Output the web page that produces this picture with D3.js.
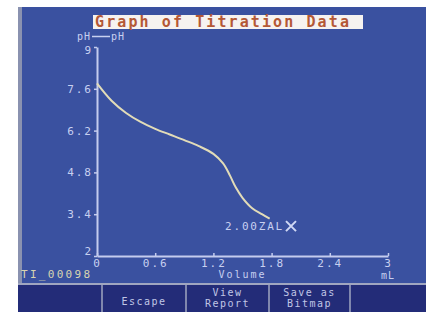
<!DOCTYPE html>
<html>
<head>
<meta charset="utf-8">
<script src="https://cdn.jsdelivr.net/npm/d3@7"></script>
<style>
  body { margin: 0; background: #ffffff; }
  text { font-family: "DejaVu Sans Mono", monospace; }
</style>
</head>
<body>
<div id="chart"></div>
<script>
// titration readings (mL, pH)
const volume = [0, 0.15, 0.3, 0.45, 0.6, 0.75, 0.9, 1.05, 1.2, 1.3, 1.37, 1.43, 1.5, 1.6, 1.7, 1.78];
const ph = [7.78, 7.2, 6.79, 6.49, 6.26, 6.07, 5.88, 5.68, 5.42, 5.1, 4.7, 4.3, 3.95, 3.6, 3.4, 3.25];
const xTicks = [0, 0.6, 1.2, 1.8, 2.4, 3];
const yTicks = [2, 3.4, 4.8, 6.2, 7.6, 9];
const marker = { volume: 2.0, ph: 3.0, label: "2.00ZAL" };
const buttons = [["Escape"], ["View", "Report"], ["Save as", "Bitmap"]];

const width = 426, height = 312;
const blue = "#3a51a0", navy = "#232c78", pale = "#c8d0f0";

const svg = d3.select("#chart")
  .append("svg")
    .attr("width", width)
    .attr("height", height);

// screen background
svg.append("rect")
  .attr("x", 18).attr("y", 7)
  .attr("width", width - 18).attr("height", height - 7)
  .attr("fill", blue);
svg.append("rect")
  .attr("x", 18).attr("y", 7)
  .attr("width", 4).attr("height", height - 7)
  .attr("fill", "#8a92b0");

const xScale = d3.scaleLinear().domain([0, 3]).range([97, 388]);
const yScale = d3.scaleLinear().domain([2, 9]).range([256, 47]);

// title box
svg.append("rect")
  .attr("x", 93).attr("y", 15)
  .attr("width", 270).attr("height", 14)
  .attr("fill", "#f6f2f0");
svg.append("text")
  .attr("x", 95).attr("y", 27)
  .attr("font-size", 15)
  .attr("font-weight", "bold")
  .attr("letter-spacing", 2.1)
  .attr("fill", "#b45836")
  .text("Graph of Titration Data");

// legend
const legend = svg.append("g").attr("fill", pale).attr("font-size", 10);
legend.append("text").attr("x", 77).attr("y", 40).attr("letter-spacing", 1).text("pH");
legend.append("line")
  .attr("x1", 92).attr("x2", 110).attr("y1", 36.5).attr("y2", 36.5)
  .attr("stroke", pale).attr("stroke-width", 1.5);
legend.append("text").attr("x", 111).attr("y", 40).attr("letter-spacing", 1).text("pH");

// axes
const yAxis = svg.append("g")
  .attr("transform", `translate(${xScale(0)},0)`)
  .call(d3.axisLeft(yScale).tickValues(yTicks).tickSize(3).tickSizeOuter(0)
    .tickFormat(d => d));
const xAxis = svg.append("g")
  .attr("transform", `translate(0,${yScale(2)})`)
  .call(d3.axisBottom(xScale).tickValues(xTicks).tickSize(-3).tickSizeOuter(0)
    .tickFormat(d => d));

[yAxis, xAxis].forEach(ax => {
  ax.select(".domain").attr("stroke", "#c4ccee").attr("stroke-width", 2);
  ax.selectAll(".tick line").attr("stroke", "#c4ccee").attr("stroke-width", 1.5);
  ax.selectAll(".tick text")
    .attr("fill", pale)
    .attr("font-size", 11)
    .attr("letter-spacing", 2)
    .style("font-family", "DejaVu Sans Mono, monospace");
});
yAxis.selectAll(".tick text").attr("x", -4);
yAxis.selectAll(".tick").filter(d => d === 2).select("text").attr("dy", "-0.1em");
yAxis.selectAll(".tick").filter(d => d === 9).select("text").attr("dy", "0.6em");
xAxis.selectAll(".tick text").attr("y", 3);

svg.append("text")
  .attr("x", (xScale(0) + xScale(3)) / 2).attr("y", 278)
  .attr("text-anchor", "middle")
  .attr("font-size", 10).attr("letter-spacing", 2)
  .attr("fill", pale).text("Volume");
svg.append("text")
  .attr("x", xScale(3)).attr("y", 279)
  .attr("text-anchor", "middle")
  .attr("font-size", 10).attr("letter-spacing", 1)
  .attr("fill", pale).text("mL");
svg.append("text")
  .attr("x", 21).attr("y", 278)
  .attr("font-size", 11).attr("letter-spacing", 2.3)
  .attr("fill", "#d8d4b0").text("TI_00098");

// titration curve
const line = d3.line()
  .x(d => xScale(d[0]))
  .y(d => yScale(d[1]))
  .curve(d3.curveCatmullRom);
svg.append("path")
  .datum(volume.map((v, i) => [v, ph[i]]))
  .attr("d", line)
  .attr("fill", "none")
  .attr("stroke", "#e2dcb8")
  .attr("stroke-width", 2);

// cursor marker
const mx = xScale(marker.volume), my = yScale(marker.ph);
svg.append("path")
  .attr("d", `M${mx - 5},${my - 5}L${mx + 5},${my + 5}M${mx - 5},${my + 5}L${mx + 5},${my - 5}`)
  .attr("stroke", "#d0d8f4").attr("stroke-width", 2);
svg.append("text")
  .attr("x", mx - 7).attr("y", my + 4)
  .attr("text-anchor", "end")
  .attr("font-size", 11).attr("letter-spacing", 1.8)
  .attr("fill", pale).text(marker.label);

// button bar
svg.append("rect")
  .attr("x", 18).attr("y", 284)
  .attr("width", width - 18).attr("height", height - 284)
  .attr("fill", navy);
svg.append("line")
  .attr("x1", 18).attr("x2", width).attr("y1", 284).attr("y2", 284)
  .attr("stroke", "#a0a6c0").attr("stroke-width", 2);
const dividers = [102, 186, 269, 350];
svg.selectAll(".divider")
  .data(dividers)
  .join("line")
    .attr("class", "divider")
    .attr("x1", d => d).attr("x2", d => d)
    .attr("y1", 284).attr("y2", height)
    .attr("stroke", "#a0a6c0").attr("stroke-width", 1.5);
const btn = svg.selectAll(".btn")
  .data(buttons)
  .join("text")
    .attr("class", "btn")
    .attr("x", (d, i) => (dividers[i] + dividers[i + 1]) / 2)
    .attr("y", d => d.length === 1 ? 305 : 296)
    .attr("text-anchor", "middle")
    .attr("font-size", 10).attr("letter-spacing", 1.5)
    .attr("fill", "#c0c6e6");
btn.selectAll("tspan")
  .data(d => d)
  .join("tspan")
    .attr("x", function() { return this.parentNode.getAttribute("x"); })
    .attr("dy", (d, i) => i === 0 ? 0 : 11)
    .text(d => d);
</script>
</body>
</html>
